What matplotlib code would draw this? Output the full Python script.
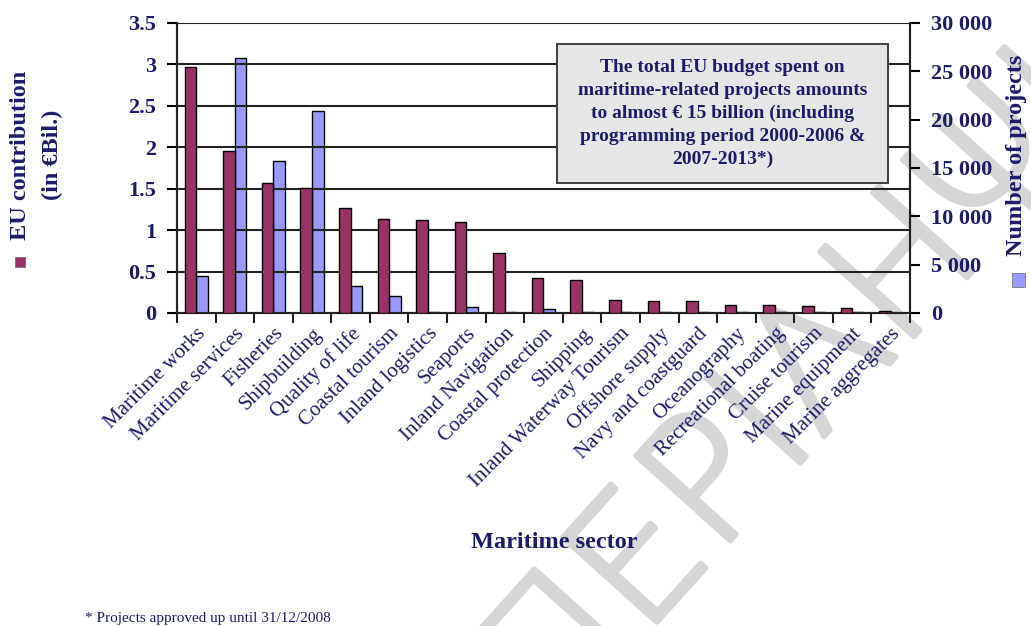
import matplotlib.pyplot as plt
import matplotlib.patches as mpatches
import matplotlib.patheffects as pe
import numpy as np

sectors = ['Maritime works', 'Maritime services', 'Fisheries', 'Shipbuilding',
           'Quality of life', 'Coastal tourism', 'Inland logistics', 'Seaports',
           'Inland Navigation', 'Coastal protection', 'Shipping',
           'Inland Waterway Tourism', 'Offshore supply', 'Navy and coastguard',
           'Oceanography', 'Recreational boating', 'Cruise tourism',
           'Marine equipment', 'Marine aggregates']
eu_contrib = [2.97, 1.95, 1.57, 1.51, 1.27, 1.14, 1.12, 1.10, 0.73, 0.42, 0.40,
              0.16, 0.14, 0.14, 0.10, 0.10, 0.08, 0.06, 0.02]
n_projects = [3800, 26400, 15700, 20900, 2800, 1800, 150, 650, 120, 450, 120,
              100, 100, 100, 80, 80, 60, 60, 40]

maroon = '#993366'
lilac = '#9999ff'
navy = '#1c1c6b'
serif = 'Liberation Serif'

fig = plt.figure(figsize=(10.31, 6.26), dpi=100)
ax = fig.add_axes([0.1717, 0.5, 0.7109, 0.4633])
ax2 = ax.twinx()

x = np.arange(len(sectors))
w = 0.3
ax.bar(x - w/2, eu_contrib, w, color=maroon, edgecolor='black', linewidth=1, zorder=3)
ax2.bar(x + w/2, n_projects, w, color=lilac, edgecolor='black', linewidth=1, zorder=3)

ax.set_xlim(-0.5, len(sectors) - 0.5)
ax.set_ylim(0, 3.5)
ax2.set_ylim(0, 30000)
ax.set_yticks(np.arange(0, 3.51, 0.5))
ax.set_yticklabels(['0', '0.5', '1', '1.5', '2', '2.5', '3', '3.5'])
ax2.set_yticks(np.arange(0, 30001, 5000))
ax2.set_yticklabels(['0', '5 000', '10 000', '15 000', '20 000', '25 000', '30 000'])
for v in np.arange(0.5, 3.51, 0.5):
    ax.axhline(v, color='#222222', linewidth=1.5, zorder=1)

for a in (ax, ax2):
    a.spines['top'].set_visible(False)
    for s in ('left', 'right', 'bottom'):
        a.spines[s].set_color('#222222')
        a.spines[s].set_linewidth(1.5)
    a.patch.set_visible(False)
ax.set_zorder(ax2.get_zorder() + 1)

ax.set_xticks(np.arange(-0.5, len(sectors), 1))
ax.set_xticklabels([])
ax.tick_params(axis='x', length=7, width=1.5, color='#222222')
ax.set_xticks(x, minor=True)
ax.set_xticklabels(sectors, minor=True, rotation=45, ha='right', rotation_mode='anchor',
                   fontsize=15, family=serif, color=navy)
ax.tick_params(axis='x', which='minor', length=0, pad=8)
ax.tick_params(axis='y', length=7, width=1.5, pad=8, labelsize=16, labelcolor=navy)
ax2.tick_params(axis='y', length=7, width=1.5, pad=8, labelsize=16, labelcolor=navy)
for lab in ax.get_yticklabels() + ax2.get_yticklabels():
    lab.set_family(serif)
    lab.set_fontweight('bold')

fig.text(0.538, 0.133, 'Maritime sector', ha='center', va='center', fontsize=17.5,
         family=serif, fontweight='bold', color=navy)

# rotated legend-style axis labels
fig.text(0.0194, 0.7524, 'EU contribution', rotation=90, ha='center', va='center',
         fontsize=17.5, family=serif, fontweight='bold', color=navy)
fig.text(0.0504, 0.7524, '(in €Bil.)', rotation=90, ha='center', va='center',
         fontsize=17.5, family=serif, fontweight='bold', color=navy)
fig.patches.append(mpatches.Rectangle((0.0145, 0.5735), 0.0097, 0.016, transform=fig.transFigure,
                                      facecolor=maroon, edgecolor='#666666', linewidth=0.5))
fig.text(0.986, 0.7524, 'Number of projects', rotation=90, ha='center', va='center',
         fontsize=17.5, family=serif, fontweight='bold', color=navy)
fig.patches.append(mpatches.Rectangle((0.9816, 0.5415), 0.0126, 0.0224, transform=fig.transFigure,
                                      facecolor=lilac, edgecolor='#666666', linewidth=0.5))

# note box
ax.add_patch(mpatches.Rectangle((0.518, 0.448), 0.452, 0.48, transform=ax.transAxes,
                                facecolor='#e6e6e6', edgecolor='#444444', linewidth=1.5,
                                zorder=5))
ax.text(0.744, 0.688, 'The total EU budget spent on\nmaritime-related projects amounts\n'
        'to almost € 15 billion (including\nprogramming period 2000-2006 &\n2007-2013*)',
        transform=ax.transAxes, ha='center', va='center', fontsize=14, family=serif,
        fontweight='bold', color=navy, linespacing=1.45, zorder=6)

fig.text(0.082, 0.006, '* Projects approved up until 31/12/2008', fontsize=11,
         family=serif, color=navy)

# watermark (behind the chart)
fig.text(0.80, 0.42, 'ΠΕΡΙΛΗΨΗ', rotation=48, ha='center', va='center', fontsize=125,
         family='DejaVu Sans', fontweight='light', color='#d6d6d6', zorder=-1,
         path_effects=[pe.withStroke(linewidth=4, foreground='#d6d6d6')])

fig.savefig('out.png', dpi=100, facecolor='white')
